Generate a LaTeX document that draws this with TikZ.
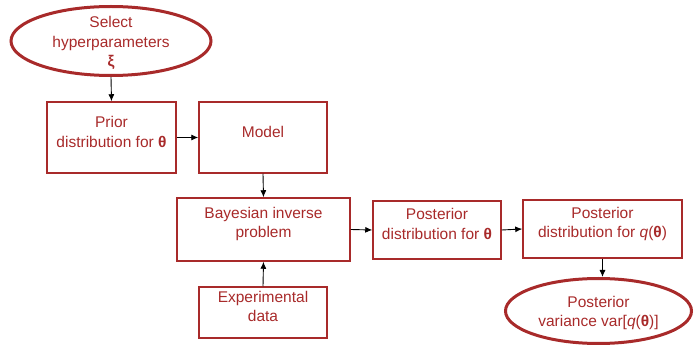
\documentclass[tikz,border=0pt]{standalone}
\usepackage{fontspec}
\setmainfont{Liberation Sans}
\usetikzlibrary{shapes.geometric,arrows.meta}
\definecolor{dred}{RGB}{168,42,42}
\tikzset{
  box/.style={draw=dred,line width=1.5pt,inner sep=0pt,rectangle},
  oval/.style={draw=dred,line width=3pt,ellipse,inner sep=0pt},
  txt/.style={text=dred,align=center,inner sep=0pt,font=\fontsize{15.5}{19.5}\selectfont},
  arr/.style={draw=black,line width=0.9pt,-{Latex[length=7pt,width=6pt]}}
}
\begin{document}
\begin{tikzpicture}[x=1pt,y=-1pt]
\useasboundingbox (0,0) rectangle (697,347);
% shapes
\node[oval,minimum width=200pt,minimum height=69pt] (e1) at (111,41) {};
\node[box,minimum width=129pt,minimum height=71pt] (prior) at (111.5,137.5) {};
\node[box,minimum width=128pt,minimum height=71pt] (model) at (263,137.5) {};
\node[box,minimum width=173pt,minimum height=63pt] (bayes) at (263.5,229.5) {};
\node[box,minimum width=128pt,minimum height=58pt] (post) at (437,230) {};
\node[box,minimum width=128pt,minimum height=51pt] (exp) at (263,312.5) {};
\node[box,minimum width=159pt,minimum height=58pt] (postq) at (602.5,229) {};
\node[oval,minimum width=186pt,minimum height=65pt] (e2) at (598.5,311) {};
% texts
\node[txt] (e1t) at (111,43) {Select\\hyperparameters\\\textbf{ξ}};
\node[txt] (priort) at (111.5,132) {Prior\\distribution for \textbf{θ}};
\node[txt] (modelt) at (263,132) {Model};
\node[txt] (bayest) at (263.5,224) {Bayesian inverse\\problem};
\node[txt] (postt) at (437,224) {Posterior\\distribution for \textbf{θ}};
\node[txt] (expt) at (263,306.5) {Experimental\\data};
\node[txt] (postqt) at (602.5,224) {Posterior\\distribution for \textit{q}(\textbf{θ})};
\node[txt] (e2t) at (598.5,313) {Posterior\\variance var[\textit{q}(\textbf{θ})]};
% connectors
\draw[arr] (e1.south) -- (prior.north);
\draw[arr] (prior.east) -- (model.west);
\draw[arr] (model.south) -- (bayes.north);
\draw[arr] (exp.north) -- (bayes.south);
\draw[arr] (bayes.east) -- (post.west);
\draw[arr] (post.east) -- (postq.west);
\draw[arr] (postq.south) -- (e2.north -| postq.south);
\end{tikzpicture}
\end{document}
